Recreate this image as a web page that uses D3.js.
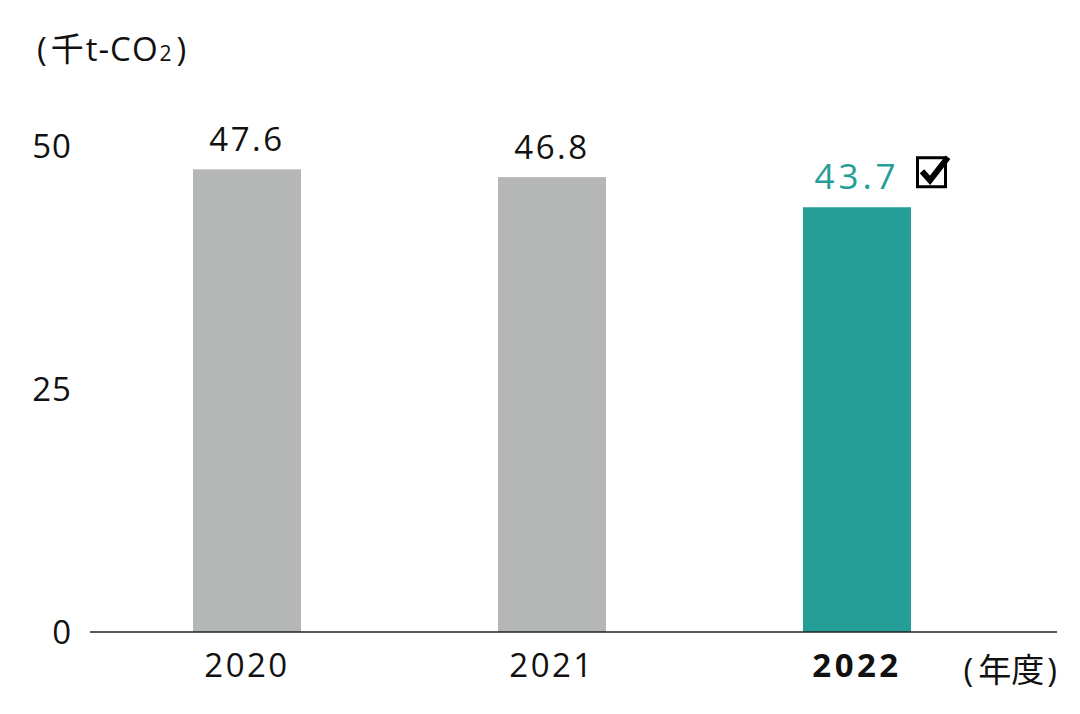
<!DOCTYPE html>
<html>
<head>
<meta charset="utf-8">
<script src="https://cdn.jsdelivr.net/npm/d3@7"></script>
<style>
  body { margin: 0; background: #fff; }
  svg text { font-family: "Open Sans", "Noto Sans CJK JP", sans-serif; fill: #111; }
</style>
</head>
<body>
<svg width="1080" height="714"></svg>
<script>
var years = ["2020", "2021", "2022"];
var values = [47.6, 46.8, 43.7];
var yTicks = [0, 25, 50];

var margins = {top: 146, right: 22, bottom: 82, left: 90};
var width = 1080 - margins.left - margins.right;
var height = 714 - margins.top - margins.bottom;

var svg = d3.select("svg");
var g = svg.append("g")
  .attr("transform", "translate(" + margins.left + "," + margins.top + ")");

var xScale = d3.scaleBand()
  .domain(years)
  .range([0, 924])
  .paddingInner(0.6459)
  .paddingOuter(0.3377);

var yScale = d3.scaleLinear()
  .domain([0, 50])
  .range([height, 0]);

var last = years[years.length - 1];

g.selectAll("rect.bar")
  .data(values)
  .enter()
  .append("rect")
  .attr("class", "bar")
  .attr("x", function(d, i){ return xScale(years[i]); })
  .attr("y", function(d){ return yScale(d); })
  .attr("width", xScale.bandwidth())
  .attr("height", function(d){ return height - yScale(d); })
  .attr("fill", function(d, i){ return years[i] == last ? "#259e98" : "#b5b7b6"; });

// value labels
g.selectAll("text.val")
  .data(values)
  .enter()
  .append("text")
  .attr("class", "val")
  .attr("x", function(d, i){ return xScale(years[i]) + xScale.bandwidth()/2; })
  .attr("y", function(d){ return yScale(d) - 18; })
  .attr("text-anchor", "middle")
  .style("font-size", function(d, i){ return years[i] == last ? "35px" : "33px"; })
  .style("letter-spacing", function(d, i){ return years[i] == last ? "4px" : "2.5px"; })
  .style("fill", function(d, i){ return years[i] == last ? "#259e98" : "#111"; })
  .text(function(d){ return d.toFixed(1); });

// check box next to the latest value
var cx = xScale(last) + xScale.bandwidth() + 5;
var cy = yScale(values[values.length - 1]) - 51;
var chk = g.append("g").attr("transform", "translate(" + cx + "," + cy + ")");
chk.append("rect")
  .attr("x", 1.5).attr("y", 1.5)
  .attr("width", 28).attr("height", 29)
  .attr("fill", "none")
  .attr("stroke", "#000")
  .attr("stroke-width", 3);
chk.append("path")
  .attr("d", "M6,15 L14,24 L32,1")
  .attr("fill", "none")
  .attr("stroke", "#000")
  .attr("stroke-width", 6)
  .attr("stroke-linejoin", "miter");

// y axis labels
var yAxis = d3.axisLeft(yScale)
  .tickValues(yTicks)
  .tickSize(0)
  .tickPadding(18);
var ya = g.append("g").call(yAxis);
ya.select(".domain").remove();
ya.selectAll("text")
  .style("font-size", "33px")
  .style("letter-spacing", "1px")
  .attr("dy", "0.36em")
  .attr("fill", "#111");

// x axis
var xAxis = d3.axisBottom(xScale).tickSize(0).tickPadding(22);
var xa = g.append("g")
  .attr("transform", "translate(0," + height + ")")
  .call(xAxis);
xa.select(".domain").remove();
xa.selectAll("text")
  .style("font-size", "33px")
  .style("letter-spacing", function(d){ return d == last ? "3.5px" : "2.5px"; })
  .style("font-weight", function(d){ return d == last ? "bold" : "normal"; })
  .attr("fill", "#111");

g.append("line")
  .attr("x1", 0).attr("x2", width - 1)
  .attr("y1", height).attr("y2", height)
  .attr("stroke", "#222")
  .attr("stroke-width", 1.5);

// unit labels
svg.append("text")
  .attr("x", 37).attr("y", 61)
  .style("font-size", "33px")
  .style("letter-spacing", "1px")
  .html('(<tspan dx="3">千</tspan><tspan dx="1">t-CO</tspan><tspan style="font-size:21px" dx="1">2</tspan><tspan dx="4">)</tspan>');

svg.append("text")
  .attr("x", 1057).attr("y", 682)
  .attr("text-anchor", "end")
  .style("font-size", "33px")
  .html('(<tspan dx="5">年度</tspan><tspan dx="3">)</tspan>');
</script>
</body>
</html>
